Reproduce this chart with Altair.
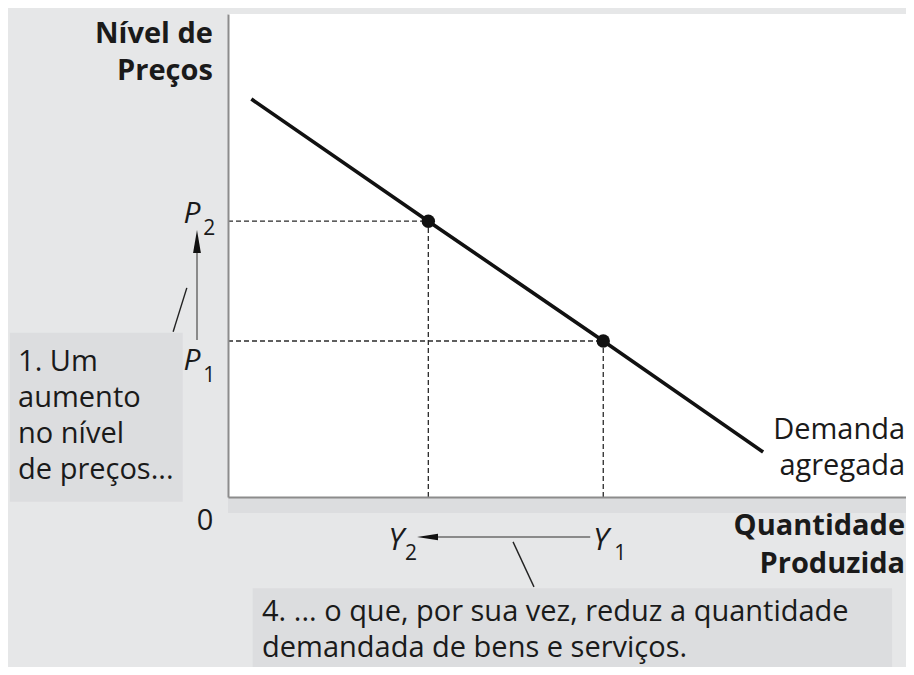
import altair as alt
import pandas as pd

# ---------------- data (chart units: quantity 0-100, price level 0-100) ----------------
demand_x = [3.4, 29.2, 54.7, 78.0]
demand_y = [82.4, 57.1, 32.3, 9.3]
eq_names = ["2", "1"]          # equilibrium 2 (P2, Y2) and 1 (P1, Y1)
eq_q = [29.2, 54.7]            # Y2, Y1
eq_p = [57.1, 32.3]            # P2, P1

y_title = "Nível de\nPreços"
x_title = "Quantidade\nProduzida"
curve_label = "Demanda\nagregada"
note_1 = "1. Um\naumento\nno nível\nde preços..."
note_4 = "4. ... o que, por sua vez, reduz a quantidade\ndemandada de bens e serviços."
origin_label = "0"

# ---------------- styling ----------------
FONT = "Open Sans"
INK = "#1a1a1a"
BG = "#e6e7e8"
BOX = "#dcdddf"
AXIS_GRAY = "#8c8c8c"
FS = 29

xs = alt.Scale(domain=[0, 98.83], nice=False, zero=False)
ys = alt.Scale(domain=[0, 100], nice=False, zero=False)
ax = alt.Axis(title=None, labels=False, ticks=False, grid=False,
              domainColor=AXIS_GRAY, domainWidth=2, zindex=1)


def X(f):
    return alt.X(f, type="quantitative", scale=xs, axis=ax)


def Y(f):
    return alt.Y(f, type="quantitative", scale=ys, axis=ax)


# ---------------- background boxes ----------------
boxes = pd.DataFrame({
    "x1": [0, -31.8, 3.6],
    "x2": [98.83, -6.6, 96.8],
    "y1": [0, 34.0, -18.9],
    "y2": [-3.3, -1.0, -36.0],
})
box_layer = alt.Chart(boxes).mark_rect(color=BOX).encode(
    x=X("x1"), x2="x2", y=Y("y1"), y2="y2")

# ---------------- dashed guides ----------------
eq = pd.DataFrame({"name": eq_names, "q": eq_q, "p": eq_p, "zero": [0, 0]})
h_dash = alt.Chart(eq).mark_rule(color="#2a2a2a", strokeWidth=1.3, strokeDash=[5, 3]).encode(
    x=X("zero"), x2="q", y=Y("p"))
v_dash = alt.Chart(eq).mark_rule(color="#2a2a2a", strokeWidth=1.3, strokeDash=[5, 3]).encode(
    x=X("q"), y=Y("zero"), y2="p")

# ---------------- demand curve & points ----------------
demand = pd.DataFrame({"q": demand_x, "p": demand_y})
demand_line = alt.Chart(demand).mark_line(color="#111111", strokeWidth=3.6).encode(
    x=X("q"), y=Y("p"))
pts = alt.Chart(eq).mark_circle(color="#111111", size=180, opacity=1).encode(
    x=X("q"), y=Y("p"))

# ---------------- arrows & pointer lines ----------------
gray_lines = pd.DataFrame({
    "x1": [-4.52, 30.6], "x2": [-4.52, 52.8],
    "y1": [32.5, -8.28], "y2": [50.7, -8.28],
})
gray_layer = alt.Chart(gray_lines).mark_rule(color="#8a8a8a", strokeWidth=2).encode(
    x=X("x1"), x2="x2", y=Y("y1"), y2="y2")

pointers = pd.DataFrame({
    "x1": [-8.0, 41.55], "x2": [-6.0, 44.6],
    "y1": [34.2, -9.3], "y2": [43.3, -18.6],
})
pointer_layer = alt.Chart(pointers).mark_rule(color="#222222", strokeWidth=1.4).encode(
    x=X("x1"), x2="x2", y=Y("y1"), y2="y2")

up_head = alt.Chart(pd.DataFrame({"x": [-4.52], "y": [52.9]})).mark_point(
    shape="M0,-1L0.34,1L-0.34,1Z", size=529, filled=True, color="#111111", opacity=1
).encode(x=X("x"), y=Y("y"))
left_head = alt.Chart(pd.DataFrame({"x": [29.08], "y": [-8.28]})).mark_point(
    shape="M-1,0L1,-0.32L1,0.32Z", size=441, filled=True, color="#111111", opacity=1
).encode(x=X("x"), y=Y("y"))


# ---------------- texts ----------------
def text_layer(df, **kw):
    return alt.Chart(df).mark_text(font=FONT, color=INK, lineBreak="\n",
                                   baseline="alphabetic", **kw).encode(
        x=X("x"), y=Y("y"), text="text:N")


bold_right = text_layer(pd.DataFrame({
    "x": [-2.2, 98.7], "y": [94.0, -7.9], "text": [y_title, x_title]}),
    align="right", fontWeight="bold", fontSize=FS, lineHeight=37.5)

reg_right = text_layer(pd.DataFrame({
    "x": [98.7], "y": [12.0], "text": [curve_label]}),
    align="right", fontSize=FS, lineHeight=36)

note1_layer = text_layer(pd.DataFrame({
    "x": [-30.6], "y": [26.1], "text": [note_1]}),
    align="left", fontSize=FS, lineHeight=36)

note4_layer = text_layer(pd.DataFrame({
    "x": [4.96], "y": [-25.67], "text": [note_4]}),
    align="left", fontSize=FS, lineHeight=36)

zero_layer = text_layer(pd.DataFrame({
    "x": [-3.35], "y": [-6.8], "text": [origin_label]}),
    align="center", fontSize=FS)

# italic main letters P and Y with upright subscripts
p_main = text_layer(pd.DataFrame({
    "x": [-4.0, -4.0], "y": [56.7, 26.3], "text": ["P", "P"]}),
    align="right", fontStyle="italic", fontSize=30)
p_sub = text_layer(pd.DataFrame({
    "x": [-3.6, -3.6], "y": [54.2, 23.8], "text": eq_names}),
    align="left", fontSize=21)
y_main2 = text_layer(pd.DataFrame({
    "x": [25.66], "y": [-11.0], "text": ["Y"]}),
    align="right", fontStyle="italic", fontSize=31)
y_main1 = text_layer(pd.DataFrame({
    "x": [53.2], "y": [-11.0], "text": ["Y"]}),
    align="left", fontStyle="italic", fontSize=31)
y_sub = text_layer(pd.DataFrame({
    "x": [25.8, 56.3], "y": [-13.0, -13.0], "text": eq_names}),
    align="left", fontSize=21)

chart = alt.layer(
    box_layer, h_dash, v_dash, demand_line, pts,
    gray_layer, pointer_layer, up_head, left_head,
    bold_right, reg_right, note1_layer, note4_layer, zero_layer,
    p_main, p_sub, y_main2, y_main1, y_sub,
).properties(
    width=678, height=483,
    padding={"left": 220, "top": 6, "right": 0, "bottom": 170},
    autosize=alt.AutoSizeParams(type="none"),
    background=BG,
).configure_view(fill="white", strokeWidth=0)

chart.save("out.html", embed_options={"renderer": "svg", "actions": False})
